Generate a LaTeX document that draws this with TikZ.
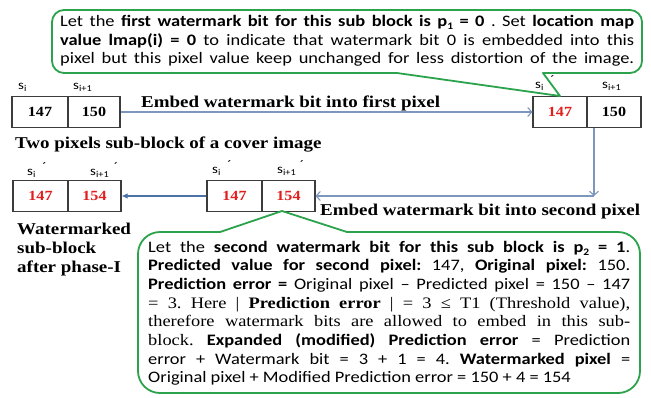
\documentclass[tikz,border=0pt]{standalone}
\usepackage{fontspec}
\setmainfont{Liberation Serif}[FakeStretch=1.15]
\newfontfamily\notefont{Carlito}[FakeStretch=1.15]
\usetikzlibrary{arrows.meta}
\frenchspacing

\definecolor{noteGreen}{HTML}{2BA24C}
\definecolor{flowBlue}{HTML}{7D96BB}
\definecolor{flowDark}{HTML}{4D72A8}
\definecolor{markRed}{HTML}{E0201E}
\definecolor{cellLine}{HTML}{3C3C3C}

% lowered index, optional size
\newcommand\lowidx[2][9]{\raisebox{-0.45ex}{\fontsize{#1}{#1}\selectfont #2}}
\newcommand\marked[1]{\textcolor{markRed}{#1}}
\newcommand\pr{\raisebox{4pt}{´}}

\begin{document}
\begin{tikzpicture}[x=1pt,y=-1pt,
  cell/.style={draw=cellLine, line width=1.1pt, minimum height=31.5pt, inner sep=0pt,
    font=\fontsize{14}{14}\selectfont\bfseries},
  lab/.style={anchor=base west, inner sep=0pt, font=\notefont\fontsize{13}{13}\selectfont},
  head/.style={anchor=base west, inner sep=0pt, font=\fontsize{16.5}{19}\selectfont\bfseries},
  note/.style={draw=noteGreen, line width=1.8pt, line cap=round, line join=round},
  notetext/.style={anchor=base west, inner sep=0pt},
  flow/.style={draw=flowBlue, line width=1.1pt, -{Straight Barb[length=4pt,width=9pt]}},
  flowdark/.style={draw=flowDark, line width=1.1pt, -{Latex[length=6pt,width=5.5pt]}},
]
\useasboundingbox (0,0) rectangle (651,397);

% ---- cover sub-block
\node[cell, minimum width=56pt] (a1) at (40,112) {147};
\node[cell, minimum width=52pt] (a2) at (94,112) {150};
\node[lab] (la1) at (18,89) {s\lowidx{i}};
\node[lab] (la2) at (73,89) {s\lowidx{i+1}};

% ---- after first pixel
\node[cell, minimum width=54pt] (b1) at (560,112) {\marked{147}};
\node[cell, minimum width=54pt] (b2) at (614,112) {150};
\node[lab] (lb1) at (535,88) {s\lowidx{i}\hspace{7pt}\pr};
\node[lab] (lb2) at (602,88) {s\lowidx{i+1}};

% ---- after second pixel
\node[cell, minimum width=55pt] (m1) at (234.5,196) {\marked{147}};
\node[cell, minimum width=53pt] (m2) at (288.5,196) {\marked{154}};
\node[lab] (lm1) at (212,173) {s\lowidx{i}\hspace{7pt}\pr};
\node[lab] (lm2) at (277,173) {s\lowidx{i+1}\hspace{4pt}\pr};

% ---- watermarked sub-block
\node[cell, minimum width=55pt] (c1) at (40.5,196) {\marked{147}};
\node[cell, minimum width=53pt] (c2) at (94.5,196) {\marked{154}};
\node[lab] (lc1) at (27,175) {s\lowidx{i}\hspace{7pt}\pr};
\node[lab] (lc2) at (90,175) {s\lowidx{i+1}\hspace{5pt}\pr};

% ---- captions
\node[head] (h1) at (141,107) {Embed watermark bit into first pixel};
\node[head] (h2) at (15,148) {Two pixels sub-block of a cover image};
\node[head] (h3) at (320,215) {Embed watermark bit into second pixel};
\node[notetext] (h4) at (17,234) {\parbox[t]{140pt}{\fontsize{16.5}{19}\selectfont\bfseries
  Watermarked\\ sub-block\\ after phase-I}};

% ---- connectors
\coordinate (turn) at (594,196);
\draw[flow] (a2.east) -- (b1.west);
\draw[flow] (b2.south west -| turn) -- (turn);
\draw[flow] (turn) -- (m2.east);
\draw[flowdark] (m1.west) -- (c2.east);

% ---- first callout
\draw[note, rounded corners=12pt] (397,73) -- (52,73) -- (52,10) -- (642,10) -- (642,73) -- (543,73);
\draw[note] (397,73) -- (560,96) -- (543,73);
\node[notetext] (n1) at (60,26.5) {\parbox[t]{574pt}{\notefont\fontsize{16}{18.5}\selectfont
\makebox[\linewidth][s]{Let the \textbf{first watermark bit for this sub block is p\lowidx[10]{1} = 0} . Set \textbf{location map}}\\
\makebox[\linewidth][s]{\textbf{value lmap(i) = 0} to indicate that watermark bit 0 is embedded into this}\\
\makebox[\linewidth][s]{pixel but this pixel value keep unchanged for less distortion of the image.}}};

% ---- second callout
\draw[note, rounded corners=22pt] (220,232) -- (138,232) -- (138,393) -- (640,393) -- (640,232) -- (347,232);
\draw[note] (220,232) -- (282,211) -- (347,232);
\node[notetext] (n2) at (148,252) {\parbox[t]{482pt}{\notefont\fontsize{16}{18.7}\selectfont
\makebox[\linewidth][s]{Let the \textbf{second watermark bit for this sub block is p\lowidx[10]{2} = 1}.}\\
\makebox[\linewidth][s]{\textbf{Predicted value for second pixel:} 147, \textbf{Original pixel:} 150.}\\
\makebox[\linewidth][s]{\textbf{Prediction error =} Original pixel – Predicted pixel = 150 – 147}\\
\makebox[\linewidth][s]{\rmfamily = 3. Here | \textbf{Prediction error} | = 3 ≤ T1 (Threshold value),}\\
\makebox[\linewidth][s]{\rmfamily therefore watermark bits are allowed to embed in this sub-}\\
\makebox[\linewidth][s]{{\rmfamily block.} \textbf{Expanded (modified) Prediction error} = Prediction}\\
\makebox[\linewidth][s]{error + Watermark bit = 3 + 1 = 4. \textbf{Watermarked pixel} =}\\
Original pixel + Modified Prediction error = 150 + 4 = 154}};
\end{tikzpicture}
\end{document}
